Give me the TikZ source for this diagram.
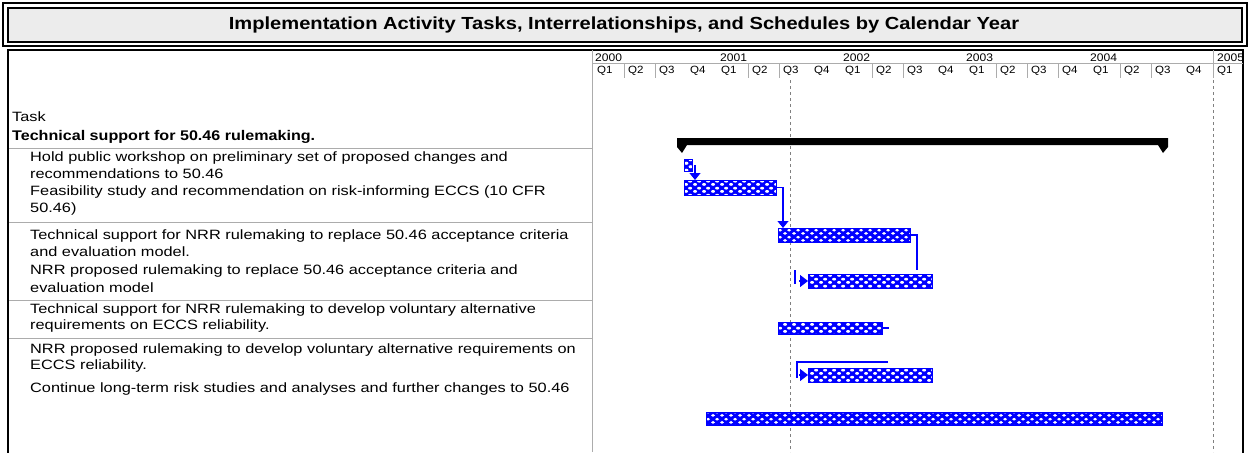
\documentclass[tikz,border=0pt]{standalone}
\usepackage{fontspec}
\setmainfont{Liberation Sans}
\newfontfamily\taskfont[FakeStretch=1.21]{Liberation Sans}
\newfontfamily\taskboldfont[FakeStretch=1.15]{Liberation Sans}
\newfontfamily\titlefont[FakeStretch=1.15]{Liberation Sans}
\newfontfamily\hdrfont[FakeStretch=1.1]{Liberation Sans}
\usetikzlibrary{arrows.meta,patterns.meta,calc}

\tikzdeclarepattern{
  name=ganttcheck,
  type=uncolored,
  bounding box={(0pt,0pt) and (9pt,7pt)},
  tile size={(9pt,7pt)},
  code={
    \fill (2.25pt,1.75pt) ellipse [x radius=2.2pt, y radius=1.55pt];
    \fill (6.75pt,5.25pt) ellipse [x radius=2.2pt, y radius=1.55pt];
  }
}

\begin{document}
\begin{tikzpicture}[x=1pt,y=-1pt,
  bar/.style={draw=blue, line width=1pt, preaction={fill=blue}, pattern=ganttcheck, pattern color=white, anchor=north west, inner sep=0pt, outer sep=0pt},
  link/.style={draw=blue, line width=1.2pt},
  arr/.style={-{Triangle[length=7pt,width=11pt]}},
  tri/.style={-{Triangle[length=8pt,width=12pt]}},
  gridline/.style={draw=gray!65, line width=0.8pt},
  tasktxt/.style={anchor=west, inner sep=0pt, font=\taskfont\fontsize{13.5}{16}\selectfont},
  yearlbl/.style={anchor=west, inner sep=0pt, font=\hdrfont\fontsize{11}{12}\selectfont},
  qlbl/.style={anchor=west, inner sep=0pt, font=\hdrfont\fontsize{10.5}{12}\selectfont},
  frame/.style={line width=2.5pt}
]
\useasboundingbox (0,0) rectangle (1249,452);

% title box
\draw[line width=2pt] (3,3) rectangle (1247,46);
\draw[line width=1.5pt, fill=gray!15] (8,8) rectangle (1242,42);
\node[font=\titlefont\bfseries\fontsize{17.5}{20}\selectfont] (title) at (624,25) {Implementation Activity Tasks, Interrelationships, and Schedules by Calendar Year};

% chart frame
\draw[frame] (8,460) -- (8,50) -- (1243,50) -- (1243,460);

% grid
\draw[gridline] (592,50) -- (592,452);
\draw[gridline] (592,63.5) -- (1243,63.5);
\draw[gridline] (1213,50) -- (1213,63.5);
\foreach \xx in {624,655,748,779,872,903,996,1027,1058,1120,1151,1213}
  \draw[gridline] (\xx,63.5) -- (\xx,78);
\foreach \yy in {148,222,300,338}
  \draw[gridline] (9,\yy) -- (592,\yy);

\draw[gray, line width=1pt, dash pattern=on 3pt off 3pt] (790,80) -- (790,452);
\draw[gray, line width=1pt, dash pattern=on 3pt off 3pt] (1213,80) -- (1213,452);

% timescale
\begin{scope}
\clip (593,52) rectangle (1241,80);
\node[yearlbl] (y0) at (595,57.5) {2000};
\node[yearlbl] (y1) at (720,57.5) {2001};
\node[yearlbl] (y2) at (843,57.5) {2002};
\node[yearlbl] (y3) at (966,57.5) {2003};
\node[yearlbl] (y4) at (1090,57.5) {2004};
\node[yearlbl] (y5) at (1217,57.5) {2005};
\foreach \k in {0,...,20}{
  \pgfmathtruncatemacro\q{mod(\k,4)+1}
  \node[qlbl] (q\k) at ({597+31*\k},71) {Q\q};
}
\end{scope}

% task names
\node[tasktxt] (tk) at (12,117) {Task};
\node[tasktxt, font=\taskboldfont\bfseries\fontsize{14}{16}\selectfont] (t0) at (12,137) {Technical support for 50.46 rulemaking.};
\node[tasktxt] (t1a) at (30,158) {Hold public workshop on preliminary set of proposed changes and};
\node[tasktxt] (t1b) at (30,174) {recommendations to 50.46};
\node[tasktxt] (t2a) at (30,192) {Feasibility study and recommendation on risk-informing ECCS (10 CFR};
\node[tasktxt] (t2b) at (30,209) {50.46)};
\node[tasktxt] (t3a) at (30,236) {Technical support for NRR rulemaking to replace 50.46 acceptance criteria};
\node[tasktxt] (t3b) at (30,252) {and evaluation model.};
\node[tasktxt] (t4a) at (30,271) {NRR proposed rulemaking to replace 50.46 acceptance criteria and};
\node[tasktxt] (t4b) at (30,288) {evaluation model};
\node[tasktxt] (t5a) at (30,310) {Technical support for NRR rulemaking to develop voluntary alternative};
\node[tasktxt] (t5b) at (30,326) {requirements on ECCS reliability.};
\node[tasktxt] (t6a) at (30,350) {NRR proposed rulemaking to develop voluntary alternative requirements on};
\node[tasktxt] (t6b) at (30,366) {ECCS reliability.};
\node[tasktxt] (t7a) at (30,389) {Continue long-term risk studies and analyses and further changes to 50.46};

% summary bar
\fill (677,138) -- (1168,138) -- (1168,147) -- (1163,153) -- (1158,145) -- (687,145) -- (682,153) -- (677,147) -- cycle;

% task bars
\node[bar, minimum width=8pt, minimum height=12pt] (hold) at (684,159) {};
\node[bar, minimum width=92pt, minimum height=15pt] (feas) at (684,180) {};
\node[bar, minimum width=132pt, minimum height=14pt] (tnrr) at (778,228) {};
\node[bar, minimum width=124pt, minimum height=14pt] (pnrr) at (808,274) {};
\node[bar, minimum width=104pt, minimum height=12pt] (tdev) at (778,322) {};
\node[bar, minimum width=124pt, minimum height=14pt] (pdev) at (808,368) {};
\node[bar, minimum width=456pt, minimum height=13pt] (cont) at (706,412) {};

% links
\coordinate (h1) at ([xshift=3pt]hold.east);
\draw[link,arr] (h1) -- (h1 |- feas.north);
\coordinate (f1) at ([xshift=5pt]tnrr.north west);
\draw[link,arr] (feas.east) -| (f1);
\coordinate (c3) at (917,270);
\draw[link] (tnrr.east) -| (c3);
\coordinate (k4a) at (795,270);
\coordinate (k4b) at (795,284);
\draw[link] (k4a) -- (k4b);
\coordinate (a4) at (799,281);
\draw[link,tri] (a4) -- (pnrr.west);
\coordinate (c5) at (889,328);
\draw[link] (tdev.east) -- (c5);
\coordinate (c6a) at (888,362);
\coordinate (c6b) at (797,362);
\coordinate (c6c) at (797,378);
\draw[link] (c6a) -- (c6b) -- (c6c);
\coordinate (a6) at (799,375);
\draw[link,tri] (a6) -- (pdev.west);
\end{tikzpicture}
\end{document}
